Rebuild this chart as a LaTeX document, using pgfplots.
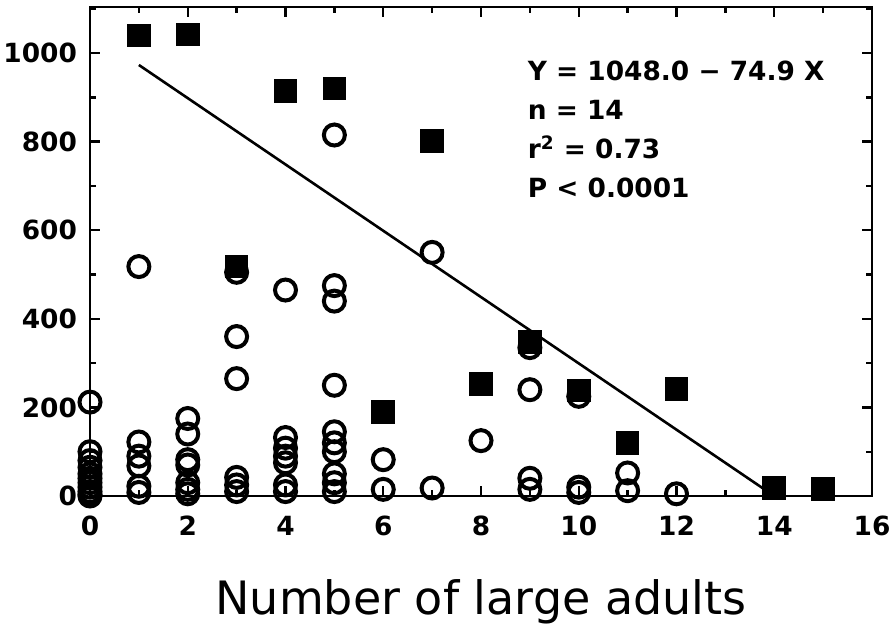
\documentclass[border=0pt]{standalone}
\usepackage{fontspec}
\setmainfont{DejaVu Sans}
\usepackage{pgfplots}
\pgfplotsset{compat=1.18}

\begin{document}
\begin{tikzpicture}
\path[use as bounding box] (-45pt,-63.5pt) rectangle (403pt,248pt);
\begin{axis}[
  scale only axis, width=391pt, height=244.5pt,
  xmin=0, xmax=16, ymin=0, ymax=1104,
  xtick={0,2,...,16}, minor xtick={1,3,...,15},
  ytick={0,200,...,1000}, minor ytick={100,300,...,1100},
  tick align=inside, major tick length=5pt, minor tick length=3pt,
  tick style={line width=1.2pt, black},
  axis line style={line width=1.4pt},
  tick label style={font=\fontsize{13.2}{15}\selectfont\bfseries},
  xticklabel style={yshift=-6.5pt},
  yticklabel style={xshift=-3pt},
  /pgf/number format/assume math mode=true,
  /pgf/number format/1000 sep={},
  xlabel={Number of large adults},
  xlabel style={font=\fontsize{23}{27}\selectfont, yshift=-15pt},
  clip=false,
]
% open circles
\addplot[only marks, mark=o, mark size=5.25pt, mark options={line width=2pt}]
  coordinates {
  (0,212) (0,100) (0,80) (0,65) (0,50) (0,40) (0,30) (0,20) (0,10) (0,3) (0,0)
  (1,518) (1,122) (1,90) (1,68) (1,22) (1,8)
  (2,175) (2,140) (2,82) (2,70) (2,30) (2,15) (2,5)
  (3,505) (3,360) (3,265) (3,42) (3,25) (3,10)
  (4,465) (4,132) (4,108) (4,90) (4,75) (4,25) (4,10)
  (5,815) (5,475) (5,440) (5,250) (5,145) (5,120) (5,100) (5,50) (5,30) (5,10)
  (6,82) (6,15)
  (7,550) (7,18)
  (8,125)
  (9,335) (9,240) (9,40) (9,15)
  (10,225) (10,20) (10,8)
  (11,52) (11,12)
  (12,5)
  };
% regression line
\addplot[no marks, line width=1.3pt] coordinates {(1,973.1) (14,0)};
% filled squares
\addplot[only marks, mark=square*, mark size=5.5pt, mark options={line width=0.8pt}]
  coordinates {
  (1,1040) (2,1042) (3,518) (4,914) (5,920) (6,190) (7,802)
  (8,253) (9,348) (10,238) (11,120) (12,241) (14,18) (15,16)
  };
\node[anchor=north west, inner sep=0pt, align=left,
      font=\fontsize{13.2}{19.5}\selectfont\bfseries]
  at (axis cs:8.95,984)
  {Y = 1048.0 − 74.9 X\\ n = 14\\ r$^{\mathbf{2}}$ = 0.73\\ P < 0.0001};
\end{axis}
\end{tikzpicture}
\end{document}
